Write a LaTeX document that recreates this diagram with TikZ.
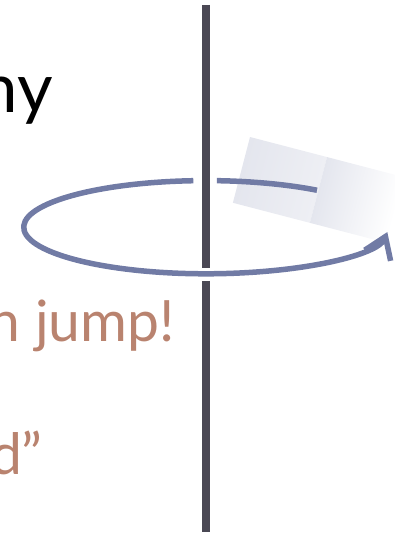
\documentclass[tikz,border=0pt]{standalone}
\usepackage{fontspec}
\setmainfont{Lato}
\usetikzlibrary{arrows.meta}
\definecolor{axisgray}{RGB}{74,72,84}
\definecolor{spinblue}{RGB}{113,123,165}
\definecolor{paddle}{RGB}{228,230,238}
\definecolor{paddlelight}{RGB}{238,239,244}
\definecolor{notebrown}{RGB}{185,131,111}

\begin{document}
\begin{tikzpicture}[x=1pt, y=1pt,
  axis/.style={axisgray, line width=8},
  spin/.style={spinblue, line width=5.5},
  headline/.style={anchor=base east, inner sep=0, font=\fontsize{69}{69}\selectfont},
  note/.style={anchor=base east, inner sep=0, text=notebrown, font=\fontsize{57}{57}\selectfont}]
\useasboundingbox (0,0) rectangle (395,534);

% Paddle
\begin{scope}[transform canvas={shift={(250,397)}, rotate=-14.6}]
\shade[left color=paddle, right color=paddlelight] (0,0) rectangle (79.6,-68);
\shade[left color=paddle, right color=white] (79.6,0) rectangle (159.2,-68);
\end{scope}

% Axis
\draw[axis] (206,529) -- (206,266.3);
\draw[axis] (206,253) -- (206,2);

% Rotation
\coordinate (hub) at (206,306.8);
\draw[spin, -{Straight Barb[length=20.5pt, width=28pt]}] (hub) ++(94:182.3 and 46.6)
  arc[start angle=94, end angle=354, x radius=182.3, y radius=46.6];
\draw[spin] (hub) ++(86.6:182.3 and 46.6)
  arc[start angle=86.6, end angle=52.5, x radius=182.3, y radius=46.6];

% Text
\node[headline] (title) at (53,421) {ny};
\node[note] (jump) at (175,192) {n jump!};
\node[note] (quote) at (43,59) {d”};
\end{tikzpicture}
\end{document}
